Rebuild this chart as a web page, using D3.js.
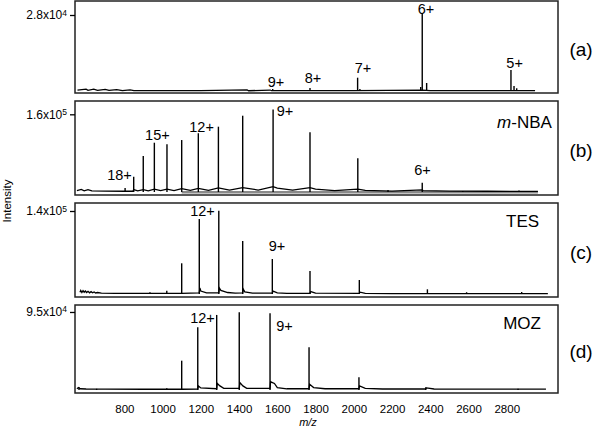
<!DOCTYPE html>
<html>
<head>
<meta charset="utf-8">
<script src="https://cdn.jsdelivr.net/npm/d3@7"></script>
<style>
  body { margin: 0; background: #fff; }
  svg { display: block; font-family: "Liberation Sans", Arial, sans-serif; }
</style>
</head>
<body>
<div id="chart"></div>
<script>
// x axis
var mzTicks = [800, 1000, 1200, 1400, 1600, 1800, 2000, 2200, 2400, 2600, 2800];

// panel names / solvents
var panelLetters = ["(a)", "(b)", "(c)", "(d)"];
var solvents = ["", "m-NBA", "TES", "MOZ"];
var yTickValues = [2.8e4, 1.6e5, 1.4e5, 9.5e4];
var yTickLabels = [["2.8x10", "4"], ["1.6x10", "5"], ["1.4x10", "5"], ["9.5x10", "4"]];

// (a) no additive
var peaksA = [[1576, 740], [1771, 1100], [2020, 4900], [2032, 740], [2350, 1500], [2358, 28700],
  [2381, 2950], [2822, 7740], [2838, 1840], [2852, 1000]];
var baseA = [[555, 300], [600, 700], [610, 250], [640, 650], [660, 200], [700, 600], [720, 200],
  [760, 500], [790, 150], [830, 400], [850, 100], [1000, 150], [1200, 100], [1442, 400], [1450, 100],
  [1563, 350], [1570, 100], [2000, 100], [2360, 300], [2400, 100], [2948, 100]];
var labelsA = [["9+", 1593, 1600], ["8+", 1787, 3100], ["7+", 2048, 6600], ["6+", 2378, 28200], ["5+", 2841, 8400]];

// (b) m-NBA
var peaksB = [[804, 8200], [849, 31500], [899, 74100], [957, 101500], [1023, 98200], [1100, 107000],
  [1187, 121000], [1292, 134500], [1419, 157100], [1578, 170000], [1771, 123000], [2021, 69400],
  [2179, 4000], [2358, 19000], [2570, 2000], [2864, 3000]];
var baseB = [[552, 3000], [575, 5500], [590, 2500], [610, 5000], [630, 2500], [700, 2000], [800, 1500],
  [845, 1500], [849, 5000], [870, 2500], [899, 5000], [925, 2500], [957, 6000], [990, 3000],
  [1023, 6000], [1060, 3000], [1100, 7000], [1145, 3500], [1187, 7500], [1240, 3500], [1292, 8500],
  [1350, 4000], [1419, 9000], [1500, 4000], [1578, 11000], [1600, 8000], [1680, 4000], [1771, 9000],
  [1800, 6000], [1900, 3000], [2021, 6000], [2060, 3500], [2200, 2000], [2358, 4500], [2362, 3000],
  [2500, 2000], [2700, 1500], [2963, 1200]];
var greyB = [[1100, -600], [2963, -600]];
var labelsB = [["18+", 775, 24700], ["15+", 973, 107000], ["12+", 1204, 124000], ["9+", 1640, 156500], ["6+", 2359, 35000]];

// (c) TES
var peaksC = [[934, 3000], [1022, 5600], [1100, 51800], [1192, 126500], [1294, 140500], [1419, 89400],
  [1574, 59000], [1771, 38800], [2029, 23600], [2385, 7900], [2590, 3000], [2878, 3400]];
var baseC = [[568, 3000], [572, 6000], [578, 2500], [584, 5500], [590, 3000], [596, 5000], [603, 2500],
  [610, 4500], [618, 2000], [626, 4000], [634, 2000], [642, 3500], [650, 1800], [660, 2500], [680, 1500],
  [750, 1200], [850, 1000], [1000, 1000], [1100, 900], [1192, 2000], [1195, 10000], [1200, 5000],
  [1230, 2000], [1294, 2000], [1297, 10000], [1305, 6000], [1340, 2500], [1380, 1500], [1419, 2000],
  [1422, 8000], [1430, 3500], [1470, 1500], [1574, 1500], [1578, 5000], [1600, 2000], [1650, 1200],
  [1771, 1200], [1775, 4000], [1800, 1500], [2029, 1200], [2033, 3000], [2060, 1000], [2200, 800],
  [2600, 800], [3015, 700]];
var labelsC = [["12+", 1209, 131600], ["9+", 1598, 72500]];

// (d) MOZ
var peaksD = [[563, 3300], [655, 1500], [940, 1200], [1022, 2000], [1100, 35700], [1184, 76400],
  [1283, 91400], [1401, 94600], [1562, 93400], [1766, 52000], [2027, 15500], [2376, 3300], [2859, 1500]];
var baseD = [[552, 1500], [560, 3000], [570, 1500], [600, 1200], [700, 1000], [900, 900], [1100, 900],
  [1184, 1200], [1187, 5000], [1200, 2500], [1283, 1500], [1286, 8000], [1300, 5000], [1320, 2000],
  [1401, 2000], [1404, 9000], [1420, 5000], [1440, 2000], [1562, 2000], [1565, 10000], [1585, 8000],
  [1600, 3000], [1650, 1500], [1766, 1500], [1769, 7000], [1790, 3000], [1850, 1500], [2027, 1500],
  [2030, 5000], [2060, 2000], [2150, 1200], [2376, 1200], [2380, 2500], [2420, 1200], [2800, 1000], [3005, 1000]];
var labelsD = [["12+", 1209, 81600], ["9+", 1638, 71900]];

var width = 600, height = 428;
var left = 75, right = 558;
var panelTops = [1, 101, 203, 305];
var panelBottoms = [93, 195, 297, 393];
var yDomains = [[-740, 33160], [-6180, 187400], [-5060, 153500], [-3650, 103500]];
var solventAnchorMz = [0, 3036, 2969, 2979];

var panels = [
  {peaks: peaksA, base: baseA, labels: labelsA},
  {peaks: peaksB, base: baseB, labels: labelsB, grey: greyB},
  {peaks: peaksC, base: baseC, labels: labelsC},
  {peaks: peaksD, base: baseD, labels: labelsD}
];

var svg = d3.select("#chart").append("svg")
  .attr("width", width).attr("height", height);

var x = d3.scaleLinear().domain([542, 3068]).range([left, right]);

panels.forEach(function(pn, i) {
  var top = panelTops[i], bottom = panelBottoms[i];
  var y = d3.scaleLinear().domain(yDomains[i]).range([bottom, top]);
  var g = svg.append("g");

  var line = d3.line().x(function(d) { return x(d[0]); }).y(function(d) { return y(d[1]); });

  if (pn.grey) {
    g.append("path").attr("d", line(pn.grey))
      .attr("fill", "none").attr("stroke", "#8a8a8a").attr("stroke-width", 2.5);
  }
  g.append("path").attr("d", line(pn.base))
    .attr("fill", "none").attr("stroke", "#000").attr("stroke-width", 1.3);

  g.selectAll("line.peak").data(pn.peaks).enter().append("line")
    .attr("class", "peak")
    .attr("x1", function(d) { return x(d[0]); })
    .attr("x2", function(d) { return x(d[0]); })
    .attr("y1", y(0))
    .attr("y2", function(d) { return y(d[1]); })
    .attr("stroke", "#000").attr("stroke-width", 1.4);

  g.selectAll("text.charge").data(pn.labels).enter().append("text")
    .attr("class", "charge")
    .attr("x", function(d) { return x(d[1]); })
    .attr("y", function(d) { return y(d[2]); })
    .attr("text-anchor", "middle")
    .attr("font-size", 14.5)
    .text(function(d) { return d[0]; });

  // frame
  g.append("rect")
    .attr("x", left).attr("y", top)
    .attr("width", right - left).attr("height", bottom - top)
    .attr("fill", "none").attr("stroke", "#222").attr("stroke-width", 1.5);

  // y axis, single tick
  var ya = g.append("g").attr("transform", "translate(" + left + ",0)")
    .call(d3.axisLeft(y).tickValues([yTickValues[i]]).tickSize(5).tickPadding(3).tickFormat(""));
  ya.select(".domain").remove();
  ya.selectAll(".tick line").attr("stroke", "#000").attr("stroke-width", 1.3);
  var t = ya.select(".tick text").attr("font-size", 12).attr("fill", "#000")
    .attr("font-family", "Liberation Sans, Arial, sans-serif");
  t.append("tspan").text(yTickLabels[i][0]);
  t.append("tspan").attr("font-size", 8.5).attr("dy", "-0.45em").text(yTickLabels[i][1]);

  // solvent label
  if (solvents[i]) {
    var st = g.append("text")
      .attr("x", x(solventAnchorMz[i]))
      .attr("y", top + (i === 1 ? 27 : 24))
      .attr("text-anchor", "end")
      .attr("font-size", 17);
    var s = solvents[i];
    if (s.indexOf("m-") === 0) {
      st.append("tspan").attr("font-style", "italic").text("m");
      st.append("tspan").text(s.slice(1));
    } else {
      st.text(s);
    }
  }

  // panel letter
  g.append("text")
    .attr("x", 581).attr("y", (top + bottom) / 2 + 2)
    .attr("text-anchor", "middle")
    .attr("dominant-baseline", "central")
    .attr("font-size", 19)
    .text(panelLetters[i]);

  if (i === panels.length - 1) {
    var xa = g.append("g").attr("transform", "translate(0," + bottom + ")")
      .call(d3.axisBottom(x).tickValues(mzTicks).tickSize(0).tickPadding(12).tickFormat(d3.format("d")));
    xa.select(".domain").remove();
    xa.selectAll("text").attr("font-size", 11.5).attr("fill", "#000")
      .attr("font-family", "Liberation Sans, Arial, sans-serif");
  }
});

// axis titles
svg.append("text")
  .attr("transform", "translate(11,201) rotate(-90)")
  .attr("text-anchor", "middle")
  .attr("font-size", 11.5)
  .text("Intensity");

svg.append("text")
  .attr("x", 308).attr("y", 426)
  .attr("text-anchor", "middle")
  .attr("font-size", 11)
  .attr("font-style", "italic")
  .text("m/z");
</script>
</body>
</html>
